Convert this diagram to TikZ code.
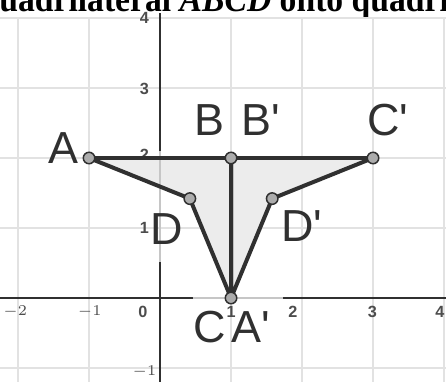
\documentclass[tikz,border=0pt]{standalone}
\usepackage{fontspec}
\setsansfont{Liberation Sans}
\newfontfamily\headfont{Liberation Serif}
\usetikzlibrary{positioning}
\definecolor{gridgray}{RGB}{226,226,226}
\definecolor{inkgray}{RGB}{48,48,48}
\definecolor{shadegray}{RGB}{236,236,236}

\begin{document}
\begin{tikzpicture}[x=1cm, y=0.986cm,
    edge/.style={line width=1.6pt, inkgray, line join=round, line cap=round},
    axisline/.style={line width=0.8pt, inkgray},
    vertex/.style={circle, fill=gray!65, draw=inkgray, line width=0.6pt,
      inner sep=0pt, minimum size=4.6pt},
    ptlabel/.style={font=\sffamily\fontsize{18}{18}\selectfont, text=inkgray,
      inner sep=0pt},
    ticklab/.style={font=\sffamily\bfseries\fontsize{6.5}{6.5}\selectfont,
      text=black!70, inner sep=0pt}]
  \useasboundingbox (-2.254,-1.186) rectangle (4.028,4.257);
  \clip (-2.254,-1.186) rectangle (4.028,4.257);

  % Cut-off heading line
  \node[anchor=base west, inner sep=0pt, xscale=0.93, transform shape,
      font=\headfont\bfseries\fontsize{14.5}{14.5}\selectfont]
    (heading) at (-2.27,4.09) {uadrilateral \textit{ABCD} onto quadrila};

  % Grid
  \foreach \x in {-2,...,4}
    \draw[gridgray, line width=0.6pt] (\x,-1.3) -- (\x,4.02);
  \foreach \y in {-1,...,4}
    \draw[gridgray, line width=0.6pt] (-2.3,\y) -- (4.1,\y);

  % Vertices
  \coordinate (A) at (-1,2);
  \coordinate (B) at (1,2);
  \coordinate (C) at (1,0);
  \coordinate (D) at (0.42,1.42);
  \coordinate (Ap) at (1,0);
  \coordinate (Bp) at (1,2);
  \coordinate (Cp) at (3,2);
  \coordinate (Dp) at (1.58,1.42);

  % Shaded interiors
  \fill[shadegray] (A) -- (B) -- (C) -- (D) -- cycle;
  \fill[shadegray] (Ap) -- (Bp) -- (Cp) -- (Dp) -- cycle;

  % Axes
  \draw[axisline] (-2.3,0) -- (0.46,0);
  \draw[axisline] (1.73,0) -- (4.1,0);
  \draw[gray!45, line width=0.6pt] (0.46,0) -- (1.73,0);
  \draw[axisline] (0,4.07) -- (0,2.1);
  \draw[axisline] (0,0.51) -- (0,-1.3);
  \draw[gray!45, line width=0.6pt] (0,2.1) -- (0,0.51);

  % Tick labels
  \foreach \x/\lab in {-2.04/$-2$, -0.99/$-1$, -0.24/0, 1.0/1, 1.87/2, 2.99/3, 3.94/4}
    \node[ticklab] at (\x,-0.2) {\lab};
  \foreach \y/\lab in {4.0/4, 2.99/3, 2.04/2, 1.0/1, -1.06/$-1$}
    \node[ticklab] at (-0.22,\y) {\lab};

  % Quadrilaterals
  \draw[edge] (A) -- (B) -- (C) -- (D) -- cycle;
  \draw[edge] (Ap) -- (Bp) -- (Cp) -- (Dp) -- cycle;

  % Points
  \foreach \p in {A,B,C,D,Cp,Dp}
    \node[vertex] at (\p) {};

  % Point labels
  \node[ptlabel] (labA) at (-1.36,2.14) {A};
  \node[ptlabel] (labB) at (0.70,2.54) {B};
  \node[ptlabel] (labBp) at (1.42,2.54) {B\textquotesingle};
  \node[ptlabel] (labCp) at (3.21,2.54) {C\textquotesingle};
  \node[ptlabel] (labD) at (0.10,0.99) {D};
  \node[ptlabel] (labDp) at (2.00,1.03) {D\textquotesingle};
  \node[ptlabel] (labC) at (0.70,-0.42) {C};
  \node[ptlabel] (labAp) at (1.28,-0.42) {A\textquotesingle};
\end{tikzpicture}
\end{document}
